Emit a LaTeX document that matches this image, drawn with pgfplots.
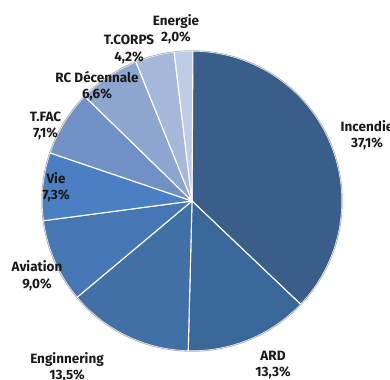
\documentclass[border=0pt]{standalone}
\usepackage{fontspec}
\setmainfont{Fira Sans}
\usepackage{pgfplots}
\usepackage{pgfplotstable}
\pgfplotsset{compat=1.18}
\definecolor{cA}{HTML}{3A5E8A}
\definecolor{cB}{HTML}{3A6799}
\definecolor{cC}{HTML}{4070A6}
\definecolor{cD}{HTML}{4677B4}
\definecolor{cE}{HTML}{4A7FC3}
\definecolor{cF}{HTML}{7090C6}
\definecolor{cG}{HTML}{8DA6CF}
\definecolor{cH}{HTML}{A6B8D9}
\definecolor{cI}{HTML}{BFCCE5}
\pgfplotstableread[col sep=comma]{
name,pct,col,lx,ly
Incendie,37.1,cA,367,245
ARD,13.3,cB,273,15
Enginnering,13.5,cC,67,13
Aviation,9.0,cD,37,104.5
Vie,7.3,cE,56,193
T.FAC,7.1,cF,45.5,254
RC Décennale,6.6,cG,97,294
T.CORPS,4.2,cH,129,330.5
Energie,2.0,cI,176,351
}\piedata
\begin{document}
\begin{tikzpicture}
\path[use as bounding box] (0,0) rectangle (390bp,380bp);
\clip (0,0) rectangle (390bp,380bp);
\begin{axis}[
  at={(0,0)}, anchor=south west,
  scale only axis, width=390bp, height=380bp,
  xmin=0, xmax=390, ymin=0, ymax=380,
  hide axis, clip=false,
  /pgf/number format/assume math mode=true,
]
\pgfmathsetmacro{\startang}{90}
\pgfplotsforeachungrouped \i in {0,...,8}{%
  \pgfplotstablegetelem{\i}{pct}\of\piedata \let\p=\pgfplotsretval
  \pgfplotstablegetelem{\i}{col}\of\piedata \let\c=\pgfplotsretval
  \pgfmathsetmacro{\endang}{\startang - 3.6*\p}%
  \edef\cmd{\noexpand\fill[\c, draw=white, line width=1.1bp, line join=round] (axis cs:192,179) -- ++(\startang:150bp) arc[start angle=\startang, end angle=\endang, radius=150bp] -- cycle;}%
  \cmd
  \global\let\startang=\endang
}
\draw[black!30, line width=0.8bp] (axis cs:192,179) circle[radius=150.3bp];
\addplot[draw=none, mark=none,
  point meta=explicit symbolic,
  visualization depends on={\thisrow{pct}\as\pctval},
  nodes near coords={\pgfplotspointmeta\\\pgfmathprintnumber[fixed,fixed zerofill,precision=1,use comma,assume math mode=true]{\pctval}\%},
  every node near coord/.style={anchor=center, align=center, inner sep=0pt,
    font=\fontsize{13.5bp}{16.5bp}\selectfont\bfseries, text=black!90},
] table[x=lx, y=ly, meta=name] {\piedata};
\end{axis}
\end{tikzpicture}
\end{document}
